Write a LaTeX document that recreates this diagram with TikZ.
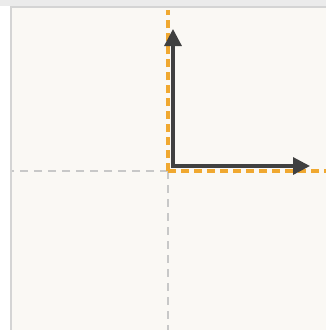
\documentclass[tikz,border=0pt]{standalone}
\usepackage{tikz}
\usetikzlibrary{arrows.meta}
\definecolor{panelbg}{HTML}{FAF8F4}
\definecolor{panelrule}{HTML}{D4D4D4}
\definecolor{guide}{HTML}{C8C8C8}
\definecolor{axisorange}{HTML}{F0A830}
\definecolor{vecdark}{HTML}{404040}
\tikzset{guideline/.style={draw=guide,line width=1.6pt,dash pattern=on 8pt off 6pt},
 oldaxis/.style={draw=axisorange,line width=4.2pt,dash pattern=on 8pt off 5pt},
 basisvec/.style={draw=vecdark,line width=3.2pt,-{Triangle[length=17pt,width=17pt]}}}
\begin{document}
\begin{tikzpicture}[x=1pt,y=-1pt]
\useasboundingbox (0,0) rectangle (326,330);
\fill[white] (0,0) rectangle (326,330);
\fill[black!8] (0,0) rectangle (326,6);
\fill[panelbg] (10,6) rectangle (326,330);
\draw[panelrule,line width=2pt] (11,330)--(11,7)--(326,7);
\coordinate (o) at (168,171);
\coordinate (left) at (12,171);
\coordinate (down) at (168,330);
\coordinate (top) at (168,10);
\coordinate (right) at (326,171);
% guides through the origin
\draw[guideline] (o)--(left);
\draw[guideline] (o)--(down);
% orange axes
\draw[oldaxis] (o)--(top);
\draw[oldaxis] (o)--(right);
% basis vectors
\coordinate (b) at (173,166);
\coordinate (by) at (173,29);
\coordinate (bx) at (310,166);
\draw[basisvec] ([yshift=1.6pt]b)--(by);
\draw[basisvec] ([xshift=-1.6pt]b)--(bx);
\end{tikzpicture}
\end{document}
